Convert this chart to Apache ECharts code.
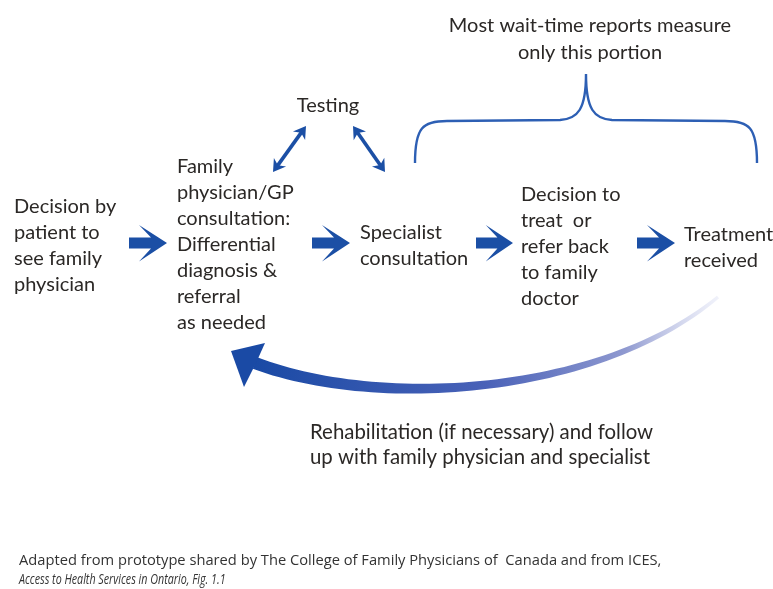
<!DOCTYPE html>
<html><head><meta charset="utf-8">
<script src="https://cdn.jsdelivr.net/npm/echarts@6/dist/echarts.min.js"></script>
<style>html,body{margin:0;padding:0;background:#fff}#c{width:773px;height:589px}</style>
</head><body><div id="c"></div>
<script>
// ---- diagram content ----
const blockTexts = [
  'Decision by\npatient to\nsee family\nphysician',
  'Family\nphysician/GP\nconsultation:\nDifferential\ndiagnosis &\nreferral\nas needed',
  'Specialist\nconsultation',
  'Decision to\ntreat  or\nrefer back\nto family\ndoctor',
  'Treatment\nreceived'
];
const blockAnchors = [[14,194],[177,154],[360,220],[521,182],[684,222]];
const testingText = 'Testing';
const testingAnchor = [328,106];
const noteText = 'Most wait-time reports measure\nonly this portion';
const noteAnchor = [590,12];
const rehabText = 'Rehabilitation (if necessary) and follow\nup with family physician and specialist';
const rehabAnchor = [310,420];
const footLine1 = 'Adapted from prototype shared by The College of Family Physicians of  Canada and from ICES,';
const footLine2 = 'Access to Health Services in Ontario, Fig. 1.1';
const footAnchors = [[19,561],[19,580]];
// block arrows: [tailX, tipX, centerY]
const blockArrows = [[129,167,243],[312,350,243],[476,513,243],[637,675,243]];
// double-headed arrows: [x1,y1,x2,y2]
const dblArrows = [[273,172,306,126],[353,126,385,172]];
// brace: left end, left shoulder, peak, right shoulder, right end
const bracePts = [[415,163],[447,121],[586,74],[725,121],[757,163]];
// return arrow: cubic control points (head end first), and head polygon
const returnCurve = [[255,363],[380,410],[600,395],[718,297]];
const returnHead = [[231,351],[265,343],[256,363],[244,387]];

const chart = echarts.init(document.getElementById('c'), null, {renderer:'canvas'});
const TXT = '#2b2826';
const BLUE = '#1b4fa5';
const FONT = 'Lato';

function textSeries(items){
  return {
    type:'custom', coordinateSystem:'cartesian2d', silent:true,
    data: items.map((it,i)=>[it.pos[0],it.pos[1],i]),
    renderItem:(params,api)=>{
      const it = items[api.value(2)];
      const p = api.coord([api.value(0),api.value(1)]);
      return {type:'text', x:p[0], y:p[1], scaleX: it.sx||1, style:{
        text: it.text, fill: it.fill||TXT, fontSize: it.size||20, fontFamily: it.family||FONT,
        fontStyle: it.italic?'italic':'normal',
        lineHeight: it.lh||26, align: it.align||'left', verticalAlign: it.va||'top'}};
    }
  };
}
const textItems = [];
blockTexts.forEach((t,i)=>textItems.push({text:t,pos:blockAnchors[i]}));
textItems.push({text:testingText,pos:testingAnchor,align:'center',va:'middle'});
textItems.push({text:noteText,pos:noteAnchor,align:'center',lh:27});
textItems.push({text:rehabText,pos:rehabAnchor,lh:25,size:20.4});
textItems.push({text:footLine1,pos:footAnchors[0],size:14.7,lh:18,va:'middle',fill:'#333',family:'Open Sans'});
textItems.push({text:footLine2,pos:footAnchors[1],size:14.7,lh:18,va:'middle',italic:true,fill:'#333',family:'Open Sans',sx:0.73});

function bez(P,t){
  const u=1-t;
  return [u*u*u*P[0][0]+3*u*u*t*P[1][0]+3*u*t*t*P[2][0]+t*t*t*P[3][0],
          u*u*u*P[0][1]+3*u*u*t*P[1][1]+3*u*t*t*P[2][1]+t*t*t*P[3][1]];
}

const option = {
  animation:false,
  backgroundColor:'#fff',
  grid:{left:0,right:0,top:0,bottom:0},
  xAxis:{type:'value',min:0,max:773,show:false},
  yAxis:{type:'value',min:0,max:589,inverse:true,show:false},
  series:[
    // block arrows
    {type:'custom',coordinateSystem:'cartesian2d',silent:true,
     data: blockArrows,
     renderItem:(params,api)=>{
       const a=api.coord([api.value(0),api.value(2)]);
       const b=api.coord([api.value(1),api.value(2)]);
       const L=b[0]-a[0], x=a[0], y=a[1];
       const s=L/38;
       const pts=[[0,-5.5],[22,-5.5],[10,-18],[38,0],[10,18.5],[22,5.5],[0,5.5]].map(q=>[x+q[0]*s,y+q[1]]);
       return {type:'polygon',shape:{points:pts},style:{fill:BLUE}};
     }},
    // double arrows
    {type:'custom',coordinateSystem:'cartesian2d',silent:true,
     data: dblArrows,
     renderItem:(params,api)=>{
       const p1=api.coord([api.value(0),api.value(1)]);
       const p2=api.coord([api.value(2),api.value(3)]);
       const dx=p2[0]-p1[0], dy=p2[1]-p1[1], len=Math.hypot(dx,dy);
       const ux=dx/len, uy=dy/len, nx=-uy, ny=ux;
       const hl=12, hw=7.5;
       function head(tip,dir){
         const bx=tip[0]-dir[0]*hl, by=tip[1]-dir[1]*hl;
         return [[tip[0],tip[1]],[bx+nx*hw,by+ny*hw],[tip[0]-dir[0]*hl*0.7,tip[1]-dir[1]*hl*0.7],[bx-nx*hw,by-ny*hw]];
       }
       return {type:'group',children:[
         {type:'line',shape:{x1:p1[0]+ux*6,y1:p1[1]+uy*6,x2:p2[0]-ux*6,y2:p2[1]-uy*6},style:{stroke:BLUE,lineWidth:3.6}},
         {type:'polygon',shape:{points:head(p2,[ux,uy])},style:{fill:BLUE}},
         {type:'polygon',shape:{points:head(p1,[-ux,-uy])},style:{fill:BLUE}}
       ]};
     }},
    // brace
    {type:'custom',coordinateSystem:'cartesian2d',silent:true,
     data:[[0]],
     renderItem:(params,api)=>{
       const P=bracePts.map(q=>api.coord(q));
       const [e1,s1,pk,s2,e2]=P;
       const mid=(P[2][0]);
       const d = 'M'+e1[0]+' '+e1[1]+
         ' C'+e1[0]+' '+(s1[1]+6)+' '+(e1[0]+8)+' '+s1[1]+' '+s1[0]+' '+s1[1]+
         ' L'+(mid-26)+' '+(s1[1]-1)+
         ' C'+(mid-8)+' '+(s1[1]-2)+' '+mid+' '+(s1[1]-12)+' '+pk[0]+' '+pk[1]+
         ' C'+mid+' '+(s1[1]-12)+' '+(mid+8)+' '+(s2[1]-2)+' '+(mid+26)+' '+(s2[1]-1)+
         ' L'+s2[0]+' '+s2[1]+
         ' C'+(e2[0]-8)+' '+s2[1]+' '+e2[0]+' '+(s2[1]+6)+' '+e2[0]+' '+e2[1];
       return {type:'path',shape:{pathData:d},style:{stroke:'#2d5fb4',lineWidth:2.4,fill:null}};
     }},
    // return arrow
    {type:'custom',coordinateSystem:'cartesian2d',silent:true,
     data:[[0]],
     renderItem:(params,api)=>{
       const C=returnCurve.map(q=>api.coord(q));
       const N=60, top=[], bot=[];
       for(let i=0;i<=N;i++){
         const t=i/N;
         const p=bez(C,t);
         const p2=bez(C,Math.min(1,t+0.001)), p0=bez(C,Math.max(0,t-0.001));
         let dx=p2[0]-p0[0], dy=p2[1]-p0[1]; const l=Math.hypot(dx,dy); dx/=l; dy/=l;
         const w=(6.2-4.5*Math.pow(t,1.2));
         top.push([p[0]-dy*w,p[1]+dx*w]);
         bot.push([p[0]+dy*w,p[1]-dx*w]);
       }
       const pts=top.concat(bot.reverse());
       const H=returnHead.map(q=>api.coord(q));
       const grad=new echarts.graphic.LinearGradient(C[0][0],0,C[3][0],0,[
         {offset:0,color:'#1a4aa5'},{offset:0.5,color:'#4a62b8'},
         {offset:0.8,color:'#8f99d0'},{offset:1,color:'rgba(225,228,245,0.5)'}],true);
       return {type:'group',children:[
         {type:'polygon',shape:{points:pts},style:{fill:grad}},
         {type:'polygon',shape:{points:H},style:{fill:'#1a4aa5'}}
       ]};
     }},
    textSeries(textItems)
  ]
};
chart.setOption(option);
</script>
</body></html>
